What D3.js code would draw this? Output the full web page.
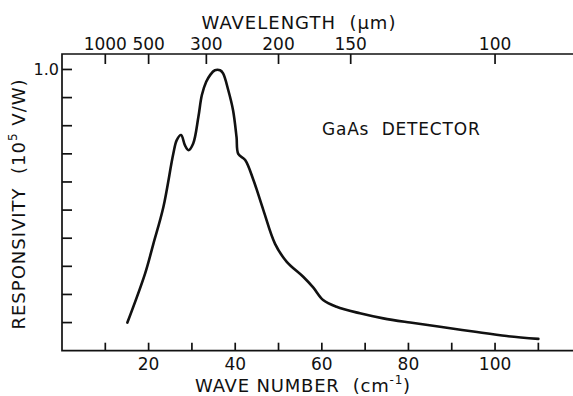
<!DOCTYPE html>
<html>
<head>
<meta charset="utf-8">
<script src="https://cdn.jsdelivr.net/npm/d3@7"></script>
<style>
  body { margin: 0; background: #fff; }
  text { font-family: "DejaVu Sans", sans-serif; fill: #111; white-space: pre; }
</style>
</head>
<body>
<div id="chart"></div>
<script>
// Data
const waveNumber = [15.1, 19.2, 21.1, 23.4, 25.7, 26.5, 27.5, 28.4, 29.2, 30.3, 31.5, 32.3, 33.3,
  34.2, 35.3, 36.5, 37.2, 38.4, 39.5, 40.3, 40.7, 42.3, 44.2, 46.5, 49.2, 51.9, 55.7, 58.0,
  60.3, 63.4, 68.8, 74.2, 80.4, 87.3, 95.0, 102.7, 110.0]
const responsivity = [0.10, 0.275, 0.38, 0.51, 0.70, 0.749, 0.767, 0.73, 0.713, 0.737, 0.832, 0.909, 0.956,
  0.98, 0.997, 0.997, 0.986, 0.926, 0.855, 0.76, 0.70, 0.678, 0.607, 0.50, 0.38, 0.316, 0.263, 0.225,
  0.18, 0.156, 0.133, 0.115, 0.10, 0.085, 0.068, 0.052, 0.042]

const bottomTicks = [10, 20, 30, 40, 50, 60, 70, 80, 90, 100, 110]
const bottomLabels = [20, 40, 60, 80, 100]
const topTicks = [1000, 500, 300, 200, 150, 100]   // wavelength, um
const yTicks = [0.1, 0.2, 0.3, 0.4, 0.5, 0.6, 0.7, 0.8, 0.9, 1.0]

let dimensions = {
  width: 573,
  height: 396,
  left: 62,
  right: 573,
  top: 54,
  bottom: 350.7
}

const svg = d3.select('#chart')
  .append('svg')
  .attr('width', dimensions.width)
  .attr('height', dimensions.height)

// scales
const xScale = d3.scaleLinear()
  .domain([0, 118])
  .range([dimensions.left, dimensions.right])

const yScale = d3.scaleLinear()
  .domain([0, 1.055])
  .range([dimensions.bottom, dimensions.top])

// wavelength (um) -> wave number (cm^-1)
const wlScale = d => xScale(10000 / d)

// frame
const frame = svg.append('g')
  .attr('stroke', '#111')
  .attr('stroke-width', 1.7)
  .attr('fill', 'none')

frame.append('path')
  .attr('d', `M${dimensions.right},${dimensions.top}H${dimensions.left}V${dimensions.bottom}H${dimensions.right}`)

// bottom ticks
frame.selectAll('.bt')
  .data(bottomTicks)
  .join('line')
  .attr('x1', d => xScale(d))
  .attr('x2', d => xScale(d))
  .attr('y1', dimensions.bottom)
  .attr('y2', dimensions.bottom - 8)

// top ticks
frame.selectAll('.tt')
  .data(topTicks)
  .join('line')
  .attr('x1', d => wlScale(d))
  .attr('x2', d => wlScale(d))
  .attr('y1', dimensions.top)
  .attr('y2', dimensions.top + 10)

// y ticks
frame.selectAll('.yt')
  .data(yTicks)
  .join('line')
  .attr('x1', dimensions.left)
  .attr('x2', dimensions.left + 10)
  .attr('y1', d => yScale(d))
  .attr('y2', d => yScale(d))

// labels
svg.append('g')
  .selectAll('text')
  .data(bottomLabels)
  .join('text')
  .attr('x', d => xScale(d))
  .attr('y', 370)
  .attr('text-anchor', 'middle')
  .attr('font-size', 17)
  .text(d => d)

svg.append('g')
  .selectAll('text')
  .data(topTicks)
  .join('text')
  .attr('x', d => wlScale(d))
  .attr('y', 50)
  .attr('text-anchor', 'middle')
  .attr('font-size', 17)
  .text(d => d)

svg.append('text')
  .attr('x', 59)
  .attr('y', yScale(1.0) + 6)
  .attr('text-anchor', 'end')
  .attr('font-size', 16)
  .text('1.0')

// axis titles
svg.append('text')
  .attr('x', 299)
  .attr('y', 29)
  .attr('text-anchor', 'middle')
  .attr('font-size', 18)
  .attr('letter-spacing', 1)
  .text('WAVELENGTH\u00a0\u00a0(\u03bcm)')

const xTitle = svg.append('text')
  .attr('x', 303)
  .attr('y', 392)
  .attr('text-anchor', 'middle')
  .attr('font-size', 18)
  .attr('letter-spacing', 0.8)
xTitle.append('tspan').text('WAVE NUMBER\u00a0\u00a0(cm')
xTitle.append('tspan').attr('dy', -8).attr('font-size', 12).text('-1')
xTitle.append('tspan').attr('dy', 8).text(')')

const yTitle = svg.append('text')
  .attr('transform', 'translate(25, 204) rotate(-90)')
  .attr('text-anchor', 'middle')
  .attr('font-size', 18)
  .attr('letter-spacing', 1)
yTitle.append('tspan').text('RESPONSIVITY\u00a0\u00a0(10')
yTitle.append('tspan').attr('dy', -8).attr('font-size', 12).text('5')
yTitle.append('tspan').attr('dy', 8).text('\u00a0V/W)')

svg.append('text')
  .attr('x', 322)
  .attr('y', 135)
  .attr('font-size', 17)
  .attr('letter-spacing', 0.8)
  .text('GaAs\u00a0\u00a0DETECTOR')

// curve
const line = d3.line()
  .x((d, i) => xScale(waveNumber[i]))
  .y(d => yScale(d))
  .curve(d3.curveCatmullRom.alpha(0.5))

svg.append('path')
  .datum(responsivity)
  .attr('d', line)
  .attr('fill', 'none')
  .attr('stroke', '#111')
  .attr('stroke-width', 2.6)
  .attr('stroke-linejoin', 'round')
  .attr('stroke-linecap', 'round')
</script>
</body>
</html>
